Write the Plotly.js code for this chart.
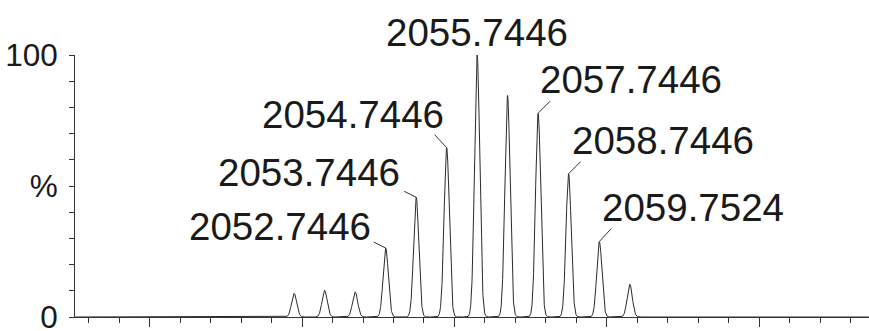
<!DOCTYPE html>
<html>
<head>
<meta charset="utf-8">
<script src="https://cdn.plot.ly/plotly-3.0.1.min.js"></script>
<style>
  html, body { margin: 0; padding: 0; background: #ffffff; }
  #chart { width: 869px; height: 331px; }
</style>
</head>
<body>
<div id="chart"></div>
<script>
// Isotope cluster: centroid m/z and relative intensity (%) of each peak
const peakMz = [2049.74, 2050.74, 2051.74, 2052.7446, 2053.7446, 2054.7446,
                2055.7446, 2056.74, 2057.7446, 2058.7446, 2059.7524, 2060.75];
const peakIntensity = [9.0, 10.2, 9.6, 26.3, 45.7, 64.6,
                       100, 84.6, 77.8, 54.7, 28.8, 12.5];

// Peaks that carry an m/z label
const labelMz = [2052.7446, 2053.7446, 2054.7446, 2055.7446,
                 2057.7446, 2058.7446, 2059.7524];

// Axis extents and tick labels
const mzRange = [2042.55, 2068.6];
const yTickVals = [0, 50, 100];
const yTickText = ['0', '%', '100'];

// Label placement around each labelled peak top (pixels; dx right, dy up).
// anchor is the side of the text box that sits at the peak.
const labelStyle = [
  { anchor: 'right',  tx: -14, ty: 8,  lx: -12, ly: 6 },
  { anchor: 'right',  tx: -15, ty: 11, lx: -12, ly: 6 },
  { anchor: 'right',  tx: -2,  ty: 20, lx: -12, ly: 13 },
  { anchor: 'center', tx: 0,   ty: 9,  lx: 0,   ly: 0 },
  { anchor: 'left',   tx: 1,   ty: 20, lx: 12,  ly: 12 },
  { anchor: 'left',   tx: 2,   ty: 20, lx: 12,  ly: 12 },
  { anchor: 'left',   tx: 2,   ty: 21, lx: 12,  ly: 13 }
];

// Profile-mode rendering: each centroid is drawn as a Gaussian line shape
const SIGMA = 0.085;
const STEP = 0.005;
const profX = [];
const profY = [];
for (let x = mzRange[0]; x <= mzRange[1]; x += STEP) {
  let y = 0;
  for (let k = 0; k < peakMz.length; k++) {
    const d = (x - peakMz[k]) / SIGMA;
    if (Math.abs(d) < 8) y += peakIntensity[k] * Math.exp(-0.5 * d * d);
  }
  profX.push(x);
  profY.push(y);
}

const FONT = '"Liberation Sans", Arial, sans-serif';
const INK = '#1a1a1a';

const annotations = [];
const shapes = [];
labelMz.forEach((mz, i) => {
  const k = peakMz.indexOf(mz);
  const top = peakIntensity[k];
  const st = labelStyle[i];
  const OFF = 9; // descent below baseline inside the text box
  annotations.push({
    x: mz, y: top, xref: 'x', yref: 'y',
    text: mz.toFixed(4),
    showarrow: false,
    xanchor: st.anchor,
    yanchor: 'bottom',
    xshift: st.tx,
    yshift: st.ty - OFF,
    borderpad: 0,
    font: { family: FONT, size: 38.5, color: INK }
  });
  if (st.lx !== 0 || st.ly !== 0) {
    shapes.push({
      type: 'line', xref: 'x', yref: 'y',
      xsizemode: 'pixel', ysizemode: 'pixel',
      xanchor: mz, yanchor: top,
      x0: 0, y0: 0, x1: st.lx, y1: st.ly,
      line: { color: '#333', width: 1 }
    });
  }
});

const data = [{
  type: 'scatter', mode: 'lines',
  x: profX, y: profY,
  line: { color: '#2a2a2a', width: 1 },
  cliponaxis: false,
  hoverinfo: 'skip'
}];

const layout = {
  width: 869, height: 331,
  margin: { l: 75, r: 0, t: 55, b: 14 },
  paper_bgcolor: '#ffffff',
  plot_bgcolor: '#ffffff',
  showlegend: false,
  font: { family: FONT, color: INK },
  xaxis: {
    range: mzRange,
    showgrid: false, zeroline: false,
    showline: true, linecolor: '#333', linewidth: 1,
    ticks: 'outside', ticklen: 9, tickwidth: 1, tickcolor: '#333',
    tickmode: 'linear', tick0: 2045, dtick: 5,
    showticklabels: false,
    minor: { ticks: 'outside', ticklen: 5, tickwidth: 1, tickcolor: '#333', dtick: 1, tick0: 2045 }
  },
  yaxis: {
    range: [0, 100],
    showgrid: false, zeroline: false,
    showline: true, linecolor: '#333', linewidth: 1,
    ticks: 'outside', ticklen: 5, tickwidth: 1, tickcolor: '#333',
    tickmode: 'array', tickvals: yTickVals, ticktext: yTickText,
    ticklabelstandoff: 5,
    ticklabeloverflow: 'allow',
    tickfont: { family: FONT, size: 31.5, color: INK },
    minor: { ticks: 'outside', ticklen: 5, tickwidth: 1, tickcolor: '#333', dtick: 10, tick0: 0 }
  },
  annotations: annotations,
  shapes: shapes
};

Plotly.newPlot('chart', data, layout, { staticPlot: true, displayModeBar: false });
</script>
</body>
</html>
